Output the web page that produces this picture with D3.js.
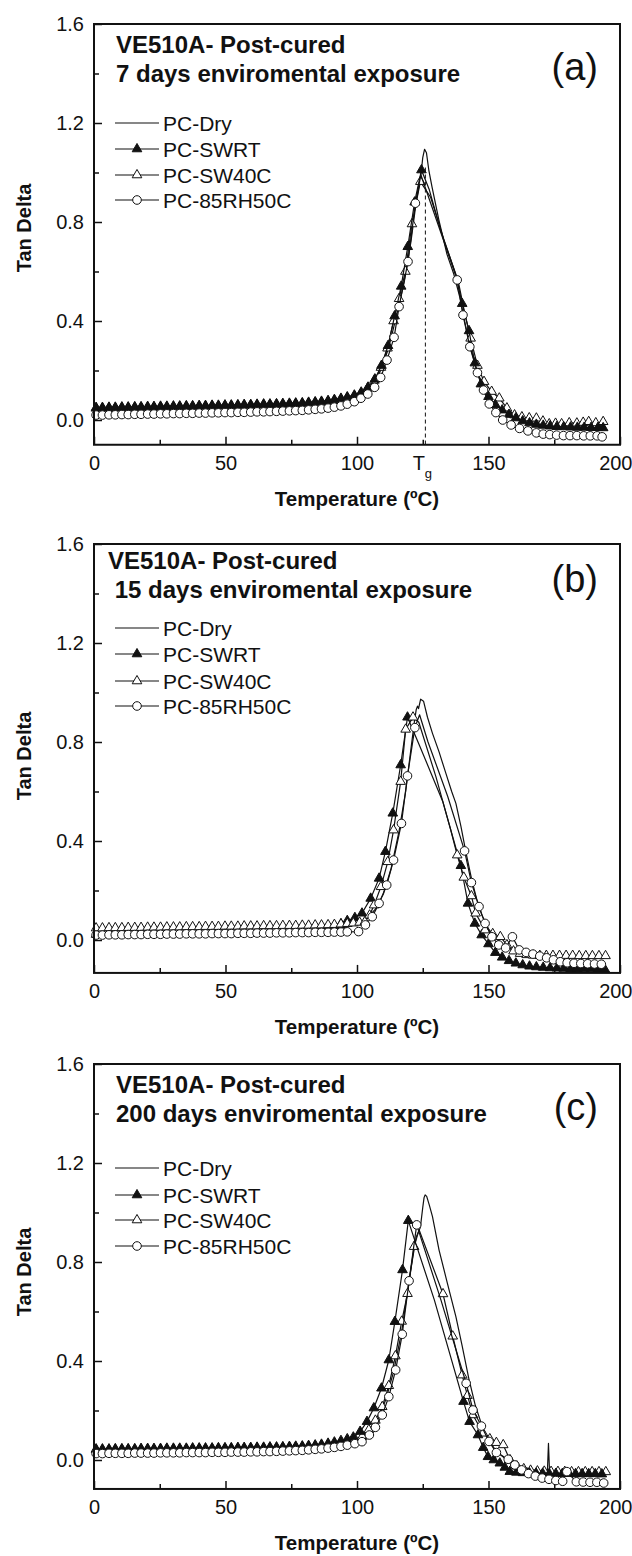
<!DOCTYPE html>
<html>
<head>
<meta charset="utf-8">
<script src="https://cdn.jsdelivr.net/npm/d3@7"></script>
<style>
  body { margin: 0; background: #fff; }
  svg text { font-family: "Liberation Sans", Arial, sans-serif; fill: #111; }
</style>
</head>
<body>
<svg id="chart" width="632" height="1556"></svg>
<script>
// ---- Data: tan delta vs temperature (°C) for VE510A post-cured samples ----
// Sampling temperatures shared by the marked series below ~97 °C
const baseTemps = [0.8,3.2,5.7,8.1,10.6,13.0,15.5,17.9,20.4,22.8,25.3,27.7,30.2,32.6,35.1,37.5,40.0,42.4,44.9,47.3,
  49.8,52.2,54.7,57.1,59.6,62.0,64.5,66.9,69.4,71.8,74.3,76.7,79.2,81.6,84.1,86.5,89.0,91.4,93.9,96.3];

const seriesNames = ["PC-Dry", "PC-SWRT", "PC-SW40C", "PC-85RH50C"];
const panelLetters = ["(a)", "(b)", "(c)"];
const exposureLabels = ["7 days enviromental exposure", " 15 days enviromental exposure", "200 days enviromental exposure"];
const xTickValues = [0, 50, 100, 150, 200];
const yTickValues = [0.0, 0.4, 0.8, 1.2, 1.6];
const glassTransition = 126; // Tg marked in panel (a)

// Points written [T, value] carry a marker; [T, value, 0] are line-only vertices.
// ---- (a) 7 days ----
const aDry = [[0,0.042],[10,0.044],[20,0.046],[30,0.048],[40,0.050],[50,0.052],[60,0.055],[70,0.059],[80,0.065],[88,0.074],
  [94,0.087],[98,0.098],[102,0.112],[106,0.150],[109,0.200],[112,0.290],[115,0.420],[118,0.560],[120.5,0.720],[122.5,0.880],
  [124.3,0.990],[125.0,1.060],[125.7,1.094],[126.4,1.080],[127.3,1.010],[128.5,0.943],[131.1,0.810],[134.2,0.670],[136.8,0.590],
  [139.0,0.500],[141.5,0.370],[144.0,0.260],[146.5,0.175],[149.0,0.115],[152.0,0.070],[155.0,0.040],[158.0,0.020],[162.0,0.004],
  [167.0,-0.008],[173.0,-0.015],[180.0,-0.018],[187.0,-0.020],[193.5,-0.020]];
const aSwrtBase = [0.050,0.050,0.051,0.051,0.052,0.052,0.053,0.053,0.054,0.054,0.055,0.055,0.056,0.056,0.057,0.057,0.058,0.058,0.059,0.059,
  0.060,0.060,0.061,0.062,0.062,0.063,0.064,0.064,0.065,0.066,0.067,0.068,0.069,0.071,0.073,0.075,0.078,0.082,0.087,0.093];
const aSwrtRest = [[99.0,0.100],[101.6,0.112],[104.2,0.132],[106.8,0.165],[109.3,0.220],[111.8,0.300],[114.3,0.420],[116.8,0.540],
  [119.3,0.700],[121.9,0.880],[124.5,1.010],[127.5,0.930,0],[132.0,0.760,0],[137.5,0.590,0],[140.0,0.470],[142.6,0.360],
  [144.8,0.230],[147.1,0.145],[150.0,0.094],[152.6,0.062],[155.2,0.040],[157.8,0.022],[160.4,0.008],[163.0,-0.004],[165.6,-0.012],
  [168.2,-0.018],[170.8,-0.022],[173.4,-0.025],[176.0,-0.027],[178.6,-0.028],[181.2,-0.029],[183.8,-0.030],[186.4,-0.030],
  [189.0,-0.031],[191.6,-0.031],[193.6,-0.032]];
const aSw40Base = [0.047,0.047,0.048,0.048,0.049,0.049,0.050,0.050,0.051,0.051,0.052,0.052,0.053,0.053,0.054,0.054,0.055,0.055,0.056,0.056,
  0.057,0.057,0.058,0.059,0.059,0.060,0.061,0.061,0.062,0.063,0.064,0.065,0.066,0.068,0.070,0.072,0.075,0.079,0.084,0.090];
const aSw40Rest = [[99.0,0.097],[101.5,0.108],[104.0,0.128],[106.6,0.160],[109.1,0.212],[111.6,0.290],[113.9,0.400],[116.0,0.490],
  [118.4,0.600],[120.9,0.792],[124.1,0.963],[128.0,0.900,0],[133.0,0.730,0],[138.5,0.560,0],[141.0,0.430,0],[143.2,0.330],
  [145.8,0.220],[148.3,0.155],[151.2,0.115],[154.1,0.088],[157.0,0.048],[159.9,0.020],[162.7,0.012],[165.5,0.008],[168.2,0.007],
  [170.7,-0.005],[173.1,-0.016],[175.5,-0.014],[177.8,-0.016],[180.7,-0.012],[183.6,-0.013],[186.0,-0.010],[188.1,-0.007],
  [190.8,-0.012],[193.6,-0.007]];
const aRhBase = [0.020,0.020,0.021,0.021,0.022,0.022,0.023,0.023,0.024,0.024,0.025,0.025,0.026,0.026,0.027,0.027,0.028,0.028,0.029,0.029,
  0.030,0.030,0.031,0.031,0.032,0.033,0.033,0.034,0.035,0.036,0.037,0.038,0.039,0.041,0.043,0.045,0.048,0.052,0.057,0.064];
const aRhRest = [[99.0,0.074],[101.5,0.088],[104.1,0.105],[106.7,0.132],[109.0,0.172],[111.4,0.242],[114.1,0.334],[116.0,0.458],
  [119.4,0.640],[122.2,0.876],[124.3,0.990,0],[138.1,0.566],[140.3,0.424],[142.9,0.296],[145.8,0.191],[148.1,0.121],[150.3,0.065],
  [152.8,0.030],[155.4,0.000],[158.6,-0.020],[161.8,-0.034],[165.0,-0.044],[168.2,-0.052],[170.8,-0.057],[173.3,-0.059],
  [175.9,-0.061],[178.5,-0.063],[181.0,-0.063],[183.6,-0.063],[186.2,-0.064],[188.7,-0.064],[191.3,-0.064],[193.2,-0.068]];

// ---- (b) 15 days ----
const bDry = [[0,0.030],[20,0.031],[40,0.033],[60,0.035],[80,0.039],[90,0.044],[96,0.052],[100,0.064],[104,0.090],[107,0.125],
  [110,0.185],[113,0.290],[116,0.440],[118.5,0.600],[120.6,0.780],[121.8,0.880],[122.5,0.930],[123.0,0.945],[123.4,0.935],
  [124.2,0.973],[125.3,0.965],[126.8,0.900],[128.7,0.835],[131.2,0.760],[133.8,0.673],[136.0,0.600],[137.6,0.552],[139.5,0.460],
  [141.5,0.350],[143.5,0.250],[145.5,0.165],[147.5,0.100],[150.0,0.045],[153.0,0.005],[157.0,-0.030],[162.0,-0.055],
  [168.0,-0.072],[176.0,-0.085],[185.0,-0.092],[194.0,-0.095]];
const bSwrtBase = [0.022,0.022,0.023,0.023,0.023,0.024,0.024,0.024,0.025,0.025,0.025,0.026,0.026,0.026,0.027,0.027,0.027,0.027,0.028,0.028,
  0.028,0.028,0.029,0.029,0.029,0.030,0.030,0.031,0.031,0.032,0.033,0.034,0.035,0.037,0.040,0.044,0.049,0.056,0.065,0.078];
const bSwrtRest = [[99.2,0.090],[101.9,0.108],[105.2,0.168],[108.4,0.249],[110.8,0.357],[113.6,0.512],[116.6,0.707],[119.2,0.900],
  [124.0,0.780,0],[132.6,0.560,0],[139.5,0.300],[142.2,0.148],[144.8,0.067],[147.4,0.020],[150.0,-0.016],[152.6,-0.051],
  [155.2,-0.070],[157.8,-0.084],[160.4,-0.094],[163.0,-0.101],[165.6,-0.106],[168.2,-0.109],[170.8,-0.111],[173.4,-0.113],
  [176.0,-0.114],[178.6,-0.115],[181.2,-0.116],[183.8,-0.116],[186.4,-0.117],[189.0,-0.117],[191.6,-0.118],[194.2,-0.118]];
const bSw40Base = [0.048,0.048,0.049,0.049,0.049,0.050,0.050,0.050,0.051,0.051,0.051,0.052,0.052,0.052,0.053,0.053,0.053,0.054,0.054,0.054,
  0.055,0.055,0.055,0.056,0.056,0.056,0.057,0.057,0.057,0.058,0.058,0.058,0.059,0.059,0.060,0.060,0.061,0.062,0.064,0.066];
const bSw40Rest = [[98.6,0.068],[101.0,0.071],[103.0,0.074],[104.8,0.100],[106.5,0.141],[109.1,0.215],[111.7,0.316],[113.9,0.444],
  [116.6,0.640],[118.5,0.851],[121.3,0.900],[123.5,0.880,0],[130.0,0.660,0],[135.5,0.450,0],[138.1,0.343],[140.6,0.253],
  [143.5,0.178],[145.1,0.108],[148.7,0.040],[151.6,0.025],[154.5,0.013],[157.0,-0.020],[159.5,-0.045],[162.0,-0.055],
  [164.5,-0.060],[167.0,-0.062],[169.5,-0.063],[172.0,-0.063],[174.5,-0.063],[177.0,-0.063],[179.5,-0.063],[182.0,-0.063],
  [184.5,-0.064],[187.0,-0.064],[189.5,-0.064],[192.0,-0.064],[194.5,-0.064]];
const bRhBase = [0.020,0.020,0.021,0.021,0.021,0.022,0.022,0.022,0.023,0.023,0.023,0.024,0.024,0.024,0.025,0.025,0.025,0.025,0.026,0.026,
  0.026,0.026,0.027,0.027,0.027,0.028,0.028,0.028,0.029,0.029,0.029,0.030,0.030,0.030,0.031,0.031,0.031,0.032,0.032,0.033];
const bRhRest = [[100.6,0.034],[103.2,0.061],[105.8,0.094],[108.4,0.148],[111.3,0.222],[113.9,0.323],[116.9,0.471],[119.2,0.663],
  [122.0,0.858],[123.8,0.910,0],[127.0,0.800,0],[134.5,0.580,0],[140.9,0.360],[143.5,0.232],[146.4,0.135],[148.7,0.067],
  [151.3,0.013],[153.9,-0.020],[156.5,-0.032],[159.1,0.013],[161.7,-0.040],[164.3,-0.050],[166.9,-0.057],[169.5,-0.065],
  [172.1,-0.072],[174.7,-0.080],[177.3,-0.088],[179.9,-0.092],[182.5,-0.094],[185.1,-0.095],[187.7,-0.096],[190.3,-0.097],
  [192.9,-0.098]];

// ---- (c) 200 days ----
const cDry = [[0,0.040],[20,0.041],[40,0.043],[60,0.045],[80,0.050],[90,0.057],[96,0.068],[100,0.082],[104,0.110],[108,0.165],
  [111,0.245],[114,0.360],[117,0.520],[120,0.740],[122.5,0.900],[124.1,0.940],[125.0,1.020],[125.5,1.060],[125.9,1.071],
  [126.5,1.065],[127.5,1.030],[128.7,0.983],[131.2,0.848],[134.4,0.713],[137.6,0.579],[140.0,0.460],[142.5,0.330],[145.0,0.220],
  [147.5,0.140],[150.0,0.080],[153.0,0.035],[157.0,0.000],[162.0,-0.025],[167.0,-0.040],[172.4,-0.046],[172.8,0.067],
  [173.2,-0.046],[180.0,-0.050],[187.0,-0.052],[194.0,-0.052]];
const cSwrtBase = [0.044,0.044,0.044,0.045,0.045,0.045,0.045,0.046,0.046,0.046,0.046,0.047,0.047,0.047,0.047,0.048,0.048,0.048,0.048,0.049,
  0.049,0.049,0.050,0.050,0.050,0.051,0.051,0.052,0.052,0.053,0.054,0.055,0.056,0.058,0.060,0.063,0.067,0.072,0.078,0.085];
const cSwrtRest = [[98.6,0.092],[101.2,0.115],[103.8,0.155],[106.4,0.210],[109.3,0.290],[112.1,0.404],[114.4,0.559],[117.3,0.768],
  [119.5,0.967],[129.4,0.647,0],[140.5,0.236],[142.8,0.155],[146.0,0.101],[148.0,0.050],[149.8,0.013],[152.0,0.000],[154.3,-0.013],
  [156.2,-0.030],[158.1,-0.047],[160.6,-0.050],[163.1,-0.052],[165.6,-0.053],[168.1,-0.054],[170.6,-0.054],[173.1,-0.055],
  [175.6,-0.055],[178.1,-0.055],[180.6,-0.055],[183.1,-0.056],[185.6,-0.056],[188.1,-0.056],[190.6,-0.056],[193.1,-0.057]];
const cSw40Base = [0.041,0.041,0.041,0.042,0.042,0.042,0.042,0.043,0.043,0.043,0.043,0.044,0.044,0.044,0.044,0.045,0.045,0.045,0.045,0.046,
  0.046,0.046,0.047,0.047,0.047,0.048,0.048,0.049,0.049,0.050,0.051,0.052,0.053,0.054,0.056,0.058,0.061,0.065,0.070,0.075];
const cSw40Rest = [[99.5,0.080],[102.0,0.095],[104.5,0.122],[107.0,0.160],[109.6,0.215],[112.1,0.300],[114.6,0.420],[117.0,0.560],
  [119.2,0.672],[121.7,0.862],[123.6,0.930,0],[132.7,0.671],[136.4,0.500],[140.0,0.343],[142.0,0.260],[144.1,0.182],[147.9,0.108],
  [150.5,0.085],[153.0,0.070],[155.6,0.061],[158.2,0.000],[160.8,-0.025],[163.4,-0.036],[166.0,-0.042],[168.6,-0.045],
  [171.2,-0.046],[173.8,-0.047],[176.4,-0.047],[179.0,-0.047],[181.6,-0.048],[184.2,-0.048],[186.8,-0.048],[189.4,-0.048],
  [192.0,-0.048],[194.6,-0.048]];
const cRhBase = [0.026,0.026,0.027,0.027,0.027,0.027,0.028,0.028,0.028,0.028,0.029,0.029,0.029,0.029,0.030,0.030,0.030,0.030,0.031,0.031,
  0.031,0.032,0.032,0.032,0.033,0.033,0.034,0.034,0.035,0.036,0.037,0.038,0.039,0.041,0.043,0.045,0.048,0.051,0.055,0.060];
const cRhRest = [[99.2,0.066],[101.9,0.074],[104.7,0.101],[107.0,0.132],[109.6,0.182],[112.1,0.256],[114.7,0.364],[117.2,0.508],
  [119.8,0.724],[122.7,0.950],[131.9,0.647,0],[141.5,0.310],[144.1,0.202],[147.3,0.137],[150.2,0.075],[153.0,0.030],[157.5,0.003],
  [160.0,-0.020],[162.6,-0.040],[165.2,-0.055],[167.8,-0.065],[170.4,-0.073],[173.0,-0.078],[175.6,-0.083],[178.2,-0.086],
  [179.8,-0.047],[183.4,-0.088],[186.0,-0.089],[188.6,-0.090],[191.2,-0.090],[193.8,-0.093]];

// ---- Assemble panels ----
const withBase = (vals, rest) => baseTemps.map((t, i) => [t, vals[i]]).concat(rest);

const panels = [
  { letter: panelLetters[0], exposure: exposureLabels[0], showTg: true,
    dry: aDry, swrt: withBase(aSwrtBase, aSwrtRest), sw40: withBase(aSw40Base, aSw40Rest), rh: withBase(aRhBase, aRhRest),
    order: ["dry", "sw40", "swrt", "rh"] },
  { letter: panelLetters[1], exposure: exposureLabels[1], showTg: false,
    dry: bDry, swrt: withBase(bSwrtBase, bSwrtRest), sw40: withBase(bSw40Base, bSw40Rest), rh: withBase(bRhBase, bRhRest),
    order: ["dry", "swrt", "sw40", "rh"] },
  { letter: panelLetters[2], exposure: exposureLabels[2], showTg: false,
    dry: cDry, swrt: withBase(cSwrtBase, cSwrtRest), sw40: withBase(cSw40Base, cSw40Rest), rh: withBase(cRhBase, cRhRest),
    order: ["dry", "sw40", "swrt", "rh"] }
];

// ---- Layout (pixel positions of frames, titles and legends) ----
const layout = [
  { top: 24,   zero: 420,  yMin: -0.100, titleX: 116, title1Y: 53,   title2Y: 82,   letterY: 80,
    legendY: [123, 149, 175, 200], yTitleC: 228 },
  { top: 544,  zero: 940,  yMin: -0.133, titleX: 108, title1Y: 569,  title2Y: 598,  letterY: 592,
    legendY: [628, 654, 681, 706], yTitleC: 756 },
  { top: 1064, zero: 1460, yMin: -0.117, titleX: 116, title1Y: 1093, title2Y: 1122, letterY: 1120,
    legendY: [1168, 1195, 1220, 1246], yTitleC: 1272 }
];
const plotLeft = 94, plotRight = 620;

const svg = d3.select("#chart");
const markerStyle = {
  dry:  null,
  swrt: { shape: "triangle", fill: "#111" },
  sw40: { shape: "triangle", fill: "#fff" },
  rh:   { shape: "circle",   fill: "#fff" }
};
const triPath = d3.symbol(d3.symbolTriangle, 40)();

function drawMarker(g, shape, fill, cx, cy) {
  if (shape === "circle") {
    g.append("circle").attr("cx", cx).attr("cy", cy).attr("r", 4.3)
      .attr("fill", fill).attr("stroke", "#111").attr("stroke-width", 1);
  } else {
    g.append("path").attr("d", triPath).attr("transform", `translate(${cx},${cy})`)
      .attr("fill", fill).attr("stroke", "#111").attr("stroke-width", 1);
  }
}

panels.forEach((p, pi) => {
  const L = layout[pi];
  const x = d3.scaleLinear().domain([0, 200]).range([plotLeft, plotRight]);
  const yPerUnit = (L.zero - L.top) / 1.6;
  const bottom = L.zero - L.yMin * yPerUnit;
  const y = d3.scaleLinear().domain([L.yMin, 1.6]).range([bottom, L.top]);
  const g = svg.append("g");

  // Series: line through every vertex, markers on marked points
  const line = d3.line().x(d => x(d[0])).y(d => y(d[1]));
  p.order.forEach(key => {
    const pts = p[key];
    g.append("path").datum(pts).attr("d", line)
      .attr("fill", "none").attr("stroke", "#111").attr("stroke-width", 1.2).attr("stroke-linejoin", "round");
    const st = markerStyle[key];
    if (st) {
      const mg = g.append("g");
      pts.filter(d => d.length < 3).forEach(d => drawMarker(mg, st.shape, st.fill, x(d[0]), y(d[1])));
    }
  });

  // Tg guide
  if (p.showTg) {
    g.append("line").attr("x1", x(glassTransition)).attr("x2", x(glassTransition))
      .attr("y1", y(1.02)).attr("y2", bottom)
      .attr("stroke", "#111").attr("stroke-width", 1).attr("stroke-dasharray", "4,3");
  }

  // Axes with inward ticks
  const yAxis = d3.axisLeft(y).tickValues(yTickValues).tickFormat(d3.format(".1f")).tickSize(-8).tickPadding(10);
  const yMinor = d3.axisLeft(y).tickValues([0.2, 0.6, 1.0, 1.4]).tickFormat("").tickSize(-5);
  const ya = g.append("g").attr("transform", `translate(${plotLeft},0)`).call(yAxis);
  g.append("g").attr("transform", `translate(${plotLeft},0)`).call(yMinor);
  const xAxis = d3.axisBottom(x).tickValues(xTickValues).tickFormat(d3.format("d")).tickSize(-8).tickPadding(11);
  const xMinor = d3.axisBottom(x).tickValues([25, 75, 125, 175]).tickFormat("").tickSize(-5);
  const xa = g.append("g").attr("transform", `translate(0,${bottom})`).call(xAxis);
  g.append("g").attr("transform", `translate(0,${bottom})`).call(xMinor);
  g.selectAll(".domain").remove();
  g.selectAll(".tick line").attr("stroke", "#111").attr("stroke-width", 1.5);
  ya.selectAll("text").attr("font-size", 20).attr("fill", "#111").attr("font-family", "Liberation Sans, Arial, sans-serif");
  xa.selectAll("text").attr("font-size", 20).attr("fill", "#111").attr("font-family", "Liberation Sans, Arial, sans-serif")
    .attr("dy", "0.71em");
  // keep the last label inside the canvas
  xa.selectAll(".tick").filter(d => d === 200).select("text").attr("text-anchor", "end").attr("x", 12);

  if (p.showTg) {
    const tg = g.append("text").attr("x", x(glassTransition) - 3).attr("y", bottom + 11).attr("dy", "0.71em")
      .attr("font-size", 20).attr("text-anchor", "middle");
    tg.append("tspan").text("T");
    tg.append("tspan").attr("font-size", 13).attr("dy", "0.65em").text("g");
  }

  // Frame
  g.append("rect").attr("x", plotLeft).attr("y", L.top).attr("width", plotRight - plotLeft).attr("height", bottom - L.top)
    .attr("fill", "none").attr("stroke", "#111").attr("stroke-width", 2);

  // Axis titles
  g.append("text").attr("transform", `translate(31,${L.yTitleC}) rotate(-90)`).attr("text-anchor", "middle")
    .attr("font-size", 20).attr("font-weight", "bold").text("Tan Delta");
  g.append("text").attr("x", (plotLeft + plotRight) / 2).attr("y", bottom + 54).attr("dy", "0.35em")
    .attr("text-anchor", "middle").attr("font-size", 20.5).attr("font-weight", "bold").text("Temperature (ºC)");

  // Titles and panel letter
  g.append("text").attr("x", L.titleX).attr("y", L.title1Y).attr("font-size", 24).attr("font-weight", "bold")
    .text("VE510A- Post-cured");
  g.append("text").attr("x", L.titleX).attr("y", L.title2Y).attr("font-size", 24).attr("font-weight", "bold")
    .attr("xml:space", "preserve").style("white-space", "pre").text(p.exposure);
  g.append("text").attr("x", 598).attr("y", L.letterY).attr("text-anchor", "end").attr("font-size", 38).text(p.letter);

  // Legend
  const keys = ["dry", "swrt", "sw40", "rh"];
  keys.forEach((k, i) => {
    const ly = L.legendY[i];
    g.append("line").attr("x1", 115).attr("x2", 159).attr("y1", ly).attr("y2", ly)
      .attr("stroke", "#111").attr("stroke-width", 1.2);
    const st = markerStyle[k];
    if (st) drawMarker(g, st.shape, st.fill, 137, ly);
    g.append("text").attr("x", 163).attr("y", ly).attr("dy", "0.36em").attr("font-size", 21).text(seriesNames[i]);
  });
});
</script>
</body>
</html>
